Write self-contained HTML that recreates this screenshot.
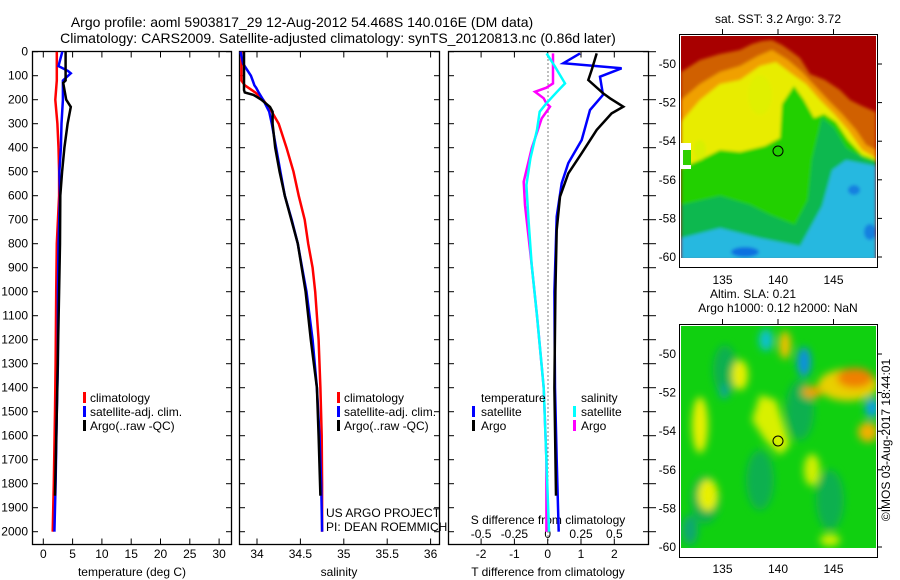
<!DOCTYPE html>
<html><head><meta charset="utf-8"><style>
html,body{margin:0;padding:0;background:#fff;}
svg{display:block;font-family:"Liberation Sans",sans-serif;}
</style></head><body>
<svg id="fig" width="900" height="580" viewBox="0 0 900 580">
<rect width="900" height="580" fill="#fff"/>
<text x="302" y="27" font-size="14" text-anchor="middle">Argo profile: aoml 5903817_29 12-Aug-2012 54.468S 140.016E (DM data)</text>
<text x="338" y="43" font-size="14" text-anchor="middle">Climatology: CARS2009. Satellite-adjusted climatology: synTS_20120813.nc (0.86d later)</text>
<g id="plots"></g>

<defs>
<clipPath id="c1"><rect x="681" y="36" width="195" height="222"/></clipPath>
<clipPath id="c2"><rect x="681" y="326" width="195" height="222"/></clipPath>
<filter id="bl"><feGaussianBlur stdDeviation="1.5"/></filter>
<filter id="bl2"><feGaussianBlur stdDeviation="4"/></filter>
</defs>
<g clip-path="url(#c1)">
<rect x="681" y="36" width="195" height="222" fill="#a80000"/>
<g filter="url(#bl)">
<polygon fill="#d06000" points="681,72 700,60 720,54 740,50 752,44 762,41 772,40 782,45 792,52 800,58 810,74 825,80 840,90 850,100 862,106 876,112 876,260 681,260"/>
<polygon fill="#f0a000" points="681,100 700,84 720,72 740,66 758,56 772,50 788,60 802,72 815,86 828,100 842,114 856,130 866,145 876,150 876,260 681,260"/>
<polygon fill="#e8ec00" points="681,122 700,100 720,84 740,80 760,66 776,62 792,74 806,84 820,100 834,114 848,130 862,150 876,158 876,260 681,260"/>
<polygon fill="#20d000" points="681,168 700,160 720,150 740,152 765,146 780,138 782,104 794,86 804,100 814,118 824,114 836,122 848,140 862,155 876,160 876,260 681,260"/>
<polygon fill="#10b850" points="681,205 720,196 750,205 770,215 795,225 808,200 812,160 822,118 834,128 846,148 866,160 876,162 876,260 681,260"/>
<polygon fill="#28b8e0" points="681,238 720,228 760,238 800,246 822,206 832,170 846,160 876,166 876,260 681,260"/>
<ellipse cx="745" cy="252" rx="14" ry="5" fill="#1070e0"/>
<ellipse cx="854" cy="190" rx="6" ry="5" fill="#1880e0"/>
<ellipse cx="870" cy="232" rx="6" ry="8" fill="#1880e0"/>
<ellipse cx="700" cy="150" rx="6" ry="10" fill="#d8f000"/>
<ellipse cx="760" cy="95" rx="12" ry="20" fill="#e0f000"/>
</g>
<rect x="681" y="143" width="10" height="26" fill="#fff"/>
<rect x="683" y="150" width="8" height="15" fill="#30d000"/>
</g>
<rect x="679.5" y="34.5" width="198" height="233" fill="none" stroke="#000"/>
<circle cx="778" cy="151" r="5" fill="none" stroke="#000"/>
<text x="778" y="23" font-size="12" text-anchor="middle">sat. SST: 3.2 Argo: 3.72</text>

<g clip-path="url(#c2)">
<rect x="681" y="326" width="195" height="222" fill="#10d010"/>
<g filter="url(#bl2)">
<ellipse cx="705" cy="500" rx="14" ry="24" fill="#10b050"/>
<ellipse cx="760" cy="480" rx="14" ry="30" fill="#10b050"/>
<ellipse cx="830" cy="500" rx="14" ry="30" fill="#10b050"/>
<ellipse cx="725" cy="370" rx="12" ry="25" fill="#10b050"/>
<ellipse cx="800" cy="410" rx="14" ry="30" fill="#10b050"/>
<ellipse cx="690" cy="530" rx="8" ry="15" fill="#10a870"/>
<ellipse cx="700" cy="425" rx="8" ry="28" fill="#e8f000"/>
<ellipse cx="740" cy="375" rx="8" ry="15" fill="#e8f000"/>
<polygon fill="#d8f000" points="760,395 776,400 790,445 780,455 765,440 752,420"/>
<ellipse cx="708" cy="495" rx="10" ry="16" fill="#e8f000"/>
<ellipse cx="812" cy="470" rx="8" ry="16" fill="#d0f000"/>
<ellipse cx="785" cy="345" rx="6" ry="14" fill="#f0c000"/>
<ellipse cx="848" cy="385" rx="30" ry="16" fill="#e8d000"/>
<ellipse cx="855" cy="378" rx="18" ry="10" fill="#f08000"/>
<ellipse cx="812" cy="392" rx="10" ry="6" fill="#f0a000"/>
<ellipse cx="868" cy="432" rx="10" ry="10" fill="#f0b000"/>
<ellipse cx="766" cy="340" rx="7" ry="11" fill="#10c0d0"/>
<ellipse cx="804" cy="362" rx="7" ry="15" fill="#1090e0"/>
<ellipse cx="872" cy="408" rx="7" ry="10" fill="#10a0e0"/>
<ellipse cx="724" cy="392" rx="5" ry="7" fill="#10a890"/>
<ellipse cx="830" cy="540" rx="10" ry="6" fill="#d0f000"/>
</g>
</g>
<rect x="679.5" y="324.5" width="198" height="233" fill="none" stroke="#000"/>
<circle cx="778" cy="441" r="5" fill="none" stroke="#000"/>
<text x="753" y="298" font-size="12" text-anchor="middle">Altim. SLA: 0.21</text>
<text x="778" y="312" font-size="12" text-anchor="middle">Argo h1000: 0.12 h2000: NaN</text>
<text transform="translate(890,440) rotate(-90)" font-size="12" text-anchor="middle">©IMOS 03-Aug-2017 18:44:01</text>
<g id="maps"></g>
</svg>
<script>
const tDepth = [0,60,80,90,120,200,300,400,500,600,800,1000,1300,1500,1800,2000];
const tClim  = [2.3,2.3,2.3,2.3,2.3,2.05,2.4,2.6,2.7,2.7,2.3,2.2,2.1,2.0,1.8,1.6];
const tSat   = [3.25,2.6,4.2,4.7,3.35,3.35,3.1,3.0,2.75,2.85,2.6,2.5,2.5,2.3,2.1,1.9];
const aDepth = [0,70,120,130,200,230,300,400,500,600,800,1000,1500,1850];
const tArgo  = [3.8,3.8,3.8,3.4,3.9,4.7,4.15,3.6,3.2,2.9,2.85,2.7,2.3,2.0];
const sDepth = [0,50,100,120,140,150,170,200,250,300,400,500,600,700,800,900,1000,1200,1400,1600,1800,2000];
const sClim  = [33.82,33.82,33.82,33.82,33.86,33.9,33.98,34.07,34.17,34.25,34.34,34.42,34.48,34.55,34.59,34.64,34.67,34.71,34.73,34.745,34.75,34.75];
const sSat   = [33.81,33.84,33.93,33.95,33.97,33.99,34.02,34.07,34.14,34.17,34.22,34.27,34.32,34.40,34.47,34.52,34.57,34.64,34.69,34.72,34.74,34.75];
const sArgoD = [0,160,170,180,200,230,250,300,400,500,600,800,1000,1200,1400,1600,1850];
const sArgo  = [33.85,33.85,33.86,33.96,34.05,34.15,34.18,34.18,34.21,34.26,34.32,34.47,34.56,34.62,34.69,34.71,34.73];
const dTDepth = [7,48,69,104,180,243,368,464,548,687,1000,1400,1700,2000];
const dTSat   = [0.97,0.47,2.22,1.57,1.66,1.27,1.02,0.62,0.42,0.27,0.2,0.22,0.27,0.33];
const dTADepth = [7,76,118,173,194,229,257,326,423,507,604,743,1000,1400,1850];
const dTArgo   = [1.47,1.32,1.22,1.66,1.87,2.27,1.92,1.47,1.02,0.62,0.37,0.27,0.23,0.2,0.25];
const dSDepth = [7,62,132,167,215,250,326,444,556,694,889,1100,1400,1700,2000];
const dSSat   = [-0.008,0.055,0.13,0.07,-0.01,-0.06,-0.08,-0.13,-0.16,-0.145,-0.12,-0.08,-0.03,-0.01,0.01];
const dSADepth = [7,132,150,167,194,215,229,278,403,542,639,889,1100,1400,1700,2000];
const dSArgo   = [0.04,0.04,-0.01,-0.095,-0.03,-0.01,0.017,-0.045,-0.12,-0.18,-0.17,-0.12,-0.08,-0.03,-0.01,-0.01];
const depthTicks = [0,100,200,300,400,500,600,700,800,900,1000,1100,1200,1300,1400,1500,1600,1700,1800,1900,2000];
const tTicks = [0,5,10,15,20,25,30];
const sTicks = [34,34.5,35,35.5,36];
const sTickLabels = ["34","34.5","35","35.5","36"];
const dTTicks = [-2,-1,0,1,2];
const dSTicks = [-0.5,-0.25,0,0.25,0.5];
const dSTickLabels = ["-0.5","-0.25","0","0.25","0.5"];
const latTicks = [-50,-52,-54,-56,-58,-60];
const lonTicks = [135,140,145];

const NS="http://www.w3.org/2000/svg";
const G=document.getElementById('plots');
function mk(tag,at,parent){const e=document.createElementNS(NS,tag);for(const k in at)e.setAttribute(k,at[k]);(parent||G).appendChild(e);return e;}
const yD = d => 51.7 + d*0.24;
const xT = t => 43.3 + t*5.86;
const xS = s => 257 + (s-34)*86.8;
const xDT = t => 547.7 + t*33.3;
const xDS = s => 547.7 + s*133.3;
const PY0=51.5, PY1=544.5;

function frame(x0,x1,name){
  const r=mk('rect',{x:x0+.5,y:PY0,width:x1-x0,height:PY1-PY0,fill:'none',stroke:'#000','stroke-width':1.3});
  
  
  depthTicks.forEach(d=>{
    const y=yD(d);
    const a=mk('line',{x1:x0,x2:x0+6,y1:y,y2:y,stroke:'#000'});
    
    
    const b=mk('line',{x1:x1-5,x2:x1+1,y1:y,y2:y,stroke:'#000'});
    
    
  });
}
function xticks(vals,labels,fx,ly,name){
  vals.forEach((v,i)=>{
    const x=fx(v);
    const t1=mk('line',{x1:x,x2:x,y1:PY1,y2:PY1-6,stroke:'#000'});
    
    
    const t2=mk('line',{x1:x,x2:x,y1:PY0,y2:PY0+6,stroke:'#000'});
    
    
    const tx=mk('text',{x:x,y:ly,'font-size':12,'text-anchor':'middle'});
    tx.textContent=labels?labels[i]:String(v);
    
    
  });
}
function line(ds,vs,fx,color,name,w){
  const pts=ds.map((d,i)=>fx(vs[i]).toFixed(1)+','+yD(d).toFixed(1)).join(' ');
  const p=mk('polyline',{points:pts,fill:'none',stroke:color,'stroke-width':w||2.5,'stroke-linejoin':'miter'});
  
  
}
function txt(x,y,s,name,anchor,size){
  const t=mk('text',{x:x,y:y,'font-size':size||12,'text-anchor':anchor||'start'});
  t.textContent=s;
  
  
}
function legMark(x,y,color,name){
  const r=mk('rect',{x:x,y:y-10,width:3,height:11,fill:color});
  
  
}

depthTicks.forEach(d=>{
  const t=mk('text',{x:28,y:yD(d)+4,'font-size':12,'text-anchor':'end'});
  t.textContent=String(d);
  
  
});

frame(32,231,'temperature-panel');
xticks(tTicks,null,xT,558,'temperature');
txt(132,576,'temperature (deg C)','temperature-axis-title','middle');
line(tDepth,tClim,xT,'#ff0000','temperature-climatology-line');
line(tDepth,tSat,xT,'#0000ff','temperature-satellite-line');
line(aDepth,tArgo,xT,'#000000','temperature-argo-line');
legMark(83,402,'#ff0000','legend-climatology-marker');
legMark(83,416,'#0000ff','legend-satellite-marker');
legMark(83,430,'#000','legend-argo-marker');
txt(90,402,'climatology','legend-climatology');
txt(90,416,'satellite-adj. clim.','legend-satellite');
txt(90,430,'Argo(..raw -QC)','legend-argo');

frame(239,439,'salinity-panel');
xticks(sTicks,sTickLabels,xS,558,'salinity');
txt(339,576,'salinity','salinity-axis-title','middle');
line(sDepth,sClim,xS,'#ff0000','salinity-climatology-line');
line(sDepth,sSat,xS,'#0000ff','salinity-satellite-line');
line(sArgoD,sArgo,xS,'#000000','salinity-argo-line');
legMark(337,402,'#ff0000','legend2-climatology-marker');
legMark(337,416,'#0000ff','legend2-satellite-marker');
legMark(337,430,'#000','legend2-argo-marker');
txt(344,402,'climatology','legend2-climatology');
txt(344,416,'satellite-adj. clim.','legend2-satellite');
txt(344,430,'Argo(..raw -QC)','legend2-argo');
txt(326,517,'US ARGO PROJECT','project-label');
txt(326,531,'PI: DEAN ROEMMICH','pi-label');

frame(448,648,'difference-panel');
depthTicks.forEach(d=>{const y=yD(d);const o=mk('line',{x1:649,x2:656,y1:y,y2:y,stroke:'#000'});});
const zl=mk('line',{x1:548,x2:548,y1:PY0,y2:PY1,stroke:'#000','stroke-dasharray':'1,3'});


xticks(dTTicks,null,xDT,558,'t-difference');
dSTicks.forEach((v,i)=>{const t=mk('text',{x:xDS(v),y:538,'font-size':12,'text-anchor':'middle'});t.textContent=dSTickLabels[i];});
txt(548,524,'S difference from climatology','s-difference-axis-title','middle');
txt(548,576,'T difference from climatology','t-difference-axis-title','middle');
line(dSADepth,dSArgo,xDS,'#ff00ff','s-diff-argo-line');
line(dSDepth,dSSat,xDS,'#00ffff','s-diff-satellite-line');
line(dTDepth,dTSat,xDT,'#0000ff','t-diff-satellite-line');
line(dTADepth,dTArgo,xDT,'#000000','t-diff-argo-line');
txt(481,402,'temperature','legend3-temperature-header');
legMark(472,416,'#0000ff','legend3-t-satellite-marker');
legMark(472,430,'#000','legend3-t-argo-marker');
txt(481,416,'satellite','legend3-t-satellite');
txt(481,430,'Argo','legend3-t-argo');
txt(581,402,'salinity','legend3-salinity-header');
legMark(573,416,'#00ffff','legend3-s-satellite-marker');
legMark(573,430,'#ff00ff','legend3-s-argo-marker');
txt(581,416,'satellite','legend3-s-satellite');
txt(581,430,'Argo','legend3-s-argo');

const M=document.getElementById('maps');
function mapAxes(lat0y,bottomY,topY,lonLabelY,name){
  latTicks.forEach(l=>{
    const y=lat0y+(-50-l)*19.3;
    const t=mk('text',{x:676,y:y+4,'font-size':12,'text-anchor':'end'},M);
    t.textContent=String(l);
    
    
    const k=mk('line',{x1:877,x2:882,y1:y,y2:y,stroke:'#000'},M);
    
    
  });
  lonTicks.forEach(l=>{
    const x=778+(l-140)*11.1;
    const t=mk('text',{x:x,y:lonLabelY,'font-size':12,'text-anchor':'middle'},M);
    t.textContent=String(l);
    
    
    const k=mk('line',{x1:x,x2:x,y1:topY-5,y2:topY,stroke:'#000'},M);
    
    
  });
}
mapAxes(64,267,34,284,'sst-map');
mapAxes(354,557,324,573,'sla-map');
</script>
</body></html>
